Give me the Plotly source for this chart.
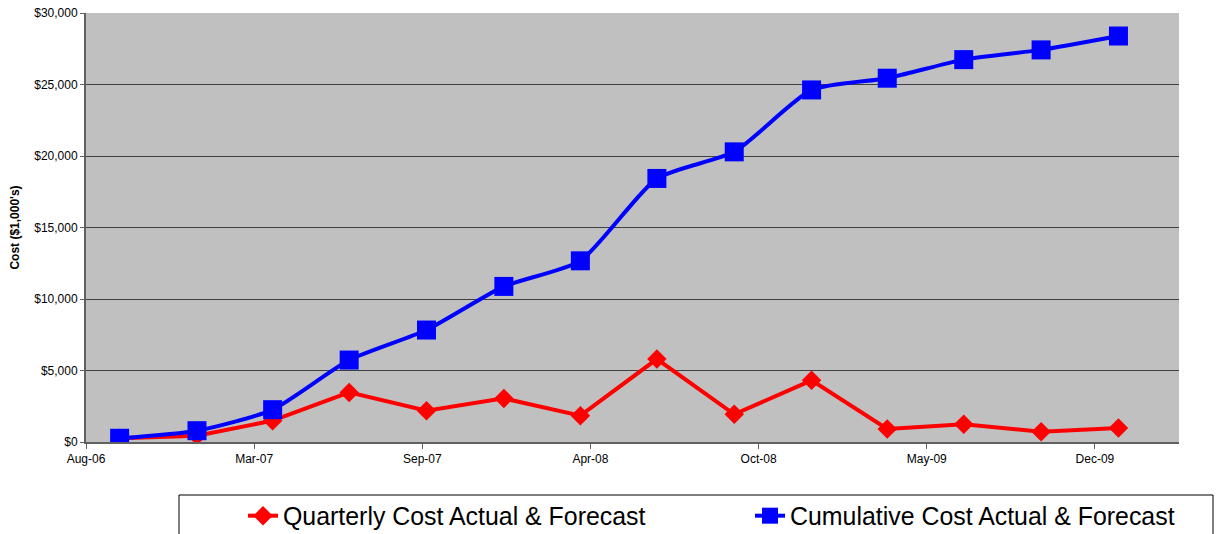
import plotly.graph_objects as go
import pandas as pd

quarters = ["2006-09-30", "2006-12-31", "2007-03-31", "2007-06-30", "2007-09-30",
            "2007-12-31", "2008-03-31", "2008-06-30", "2008-09-30", "2008-12-31",
            "2009-03-31", "2009-06-30", "2009-09-30", "2009-12-31"]
quarterly_cost = [260, 440, 1490, 3470, 2190, 3050, 1840, 5800, 1940, 4310,
                  910, 1240, 720, 980]
cumulative_cost = [260, 790, 2260, 5730, 7830, 10880, 12670, 18430, 20290, 24620,
                   25440, 26740, 27420, 28390]
tick_labels = ["Aug-06", "Mar-07", "Sep-07", "Apr-08", "Oct-08", "May-09", "Dec-09"]
tick_dates = pd.date_range(start="2006-08-21", periods=len(tick_labels), freq="200D")
x_range = [tick_dates[0], tick_dates[-1] + pd.Timedelta(days=100)]

FONT = "Liberation Sans, Arial, sans-serif"
W, H = 1219, 534
L, R, T, B = 86, 40, 13, 92
PW = W - L - R
PH = H - T - B

fig = go.Figure()
fig.add_trace(go.Scatter(
    x=quarters, y=quarterly_cost, name="Quarterly Cost Actual & Forecast",
    mode="lines+markers",
    line=dict(color="#FF0000", width=4),
    marker=dict(symbol="diamond", size=15, color="#FF0000"),
))
fig.add_trace(go.Scatter(
    x=quarters, y=cumulative_cost, name="Cumulative Cost Actual & Forecast",
    mode="lines+markers",
    line=dict(color="#0000FF", width=4, shape="spline", smoothing=0.6),
    marker=dict(symbol="square", size=19, color="#0000FF"),
))

fig.update_layout(
    width=W, height=H,
    margin=dict(l=L, r=R, t=T, b=B, autoexpand=False),
    paper_bgcolor="white", plot_bgcolor="#C0C0C0",
    font=dict(family=FONT, color="black", size=12),
    showlegend=True,
    legend=dict(orientation="h", x=(243 - L) / PW, xanchor="left",
                y=(442 - 493) / PH, yanchor="top",
                font=dict(size=24.9, family=FONT), entrywidth=462,
                bgcolor="rgba(0,0,0,0)", borderwidth=0),
    shapes=[dict(type="rect", xref="paper", yref="paper",
                 x0=(179 - L) / PW, x1=(1213 - L) / PW,
                 y0=(442 - 495) / PH, y1=-0.5,
                 line=dict(color="black", width=1), fillcolor="rgba(0,0,0,0)")],
)
fig.update_xaxes(
    type="date", range=x_range, tickvals=tick_dates, ticktext=tick_labels,
    showgrid=False, showline=True, linecolor="#606060", linewidth=2,
    ticks="outside", ticklen=5, tickcolor="#606060",
    tickfont=dict(size=12), zeroline=False,
)
fig.update_yaxes(
    range=[0, 30000], dtick=5000, tickprefix="$", tickformat=",",
    showgrid=True, gridcolor="#404040", gridwidth=1,
    showline=True, linecolor="#606060", linewidth=2,
    ticks="outside", ticklen=4, tickcolor="#606060",
    tickfont=dict(size=12), zeroline=False,
    title=dict(text="<b>Cost ($1,000's)</b>", font=dict(size=12), standoff=12),
)

fig.write_html("out.html", config={"displayModeBar": False},
               post_script="document.body.style.margin='0';")
